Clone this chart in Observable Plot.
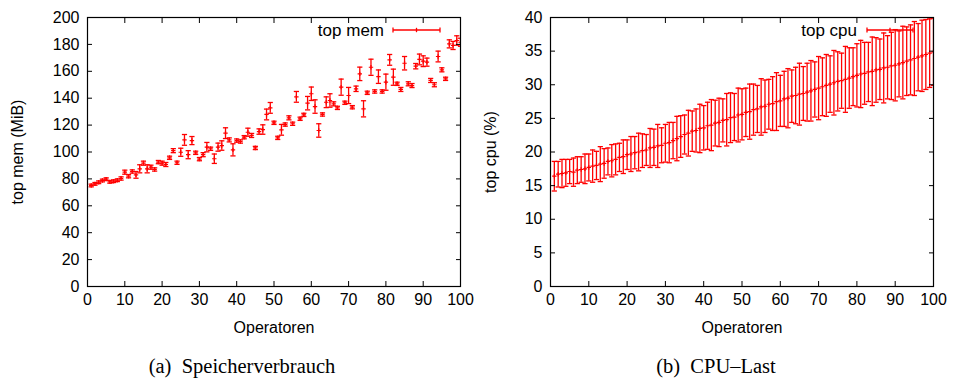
<!DOCTYPE html>
<html><head><meta charset="utf-8">
<script src="https://cdn.jsdelivr.net/npm/d3@7"></script>
<script src="https://cdn.jsdelivr.net/npm/@observablehq/plot@0.6"></script>
<style>
body{margin:0;background:#fff;}
#wrap{position:relative;width:954px;height:378px;overflow:hidden;font-family:"Liberation Sans",Arial,sans-serif;}
.panel{position:absolute;top:0;}
.cap{position:absolute;top:354px;font-family:"Liberation Serif","Times New Roman",serif;font-size:20.5px;white-space:pre;transform:translateX(-50%);line-height:24px;}
.leg{position:absolute;top:0;left:0;}
</style></head><body>
<div id="wrap"></div>
<script>
// Operator counts (x)
const operators = d3.range(1, 101);
// top mem (MiB): mean and error half-width
const memMean = [
  75.1,76.3,77.5,78.8,79.8,77.8,78.3,79.0,80.3,85.0,
  82.0,85.5,83.0,87.5,91.7,87.5,88.7,87.0,92.5,91.7,
  90.7,95.7,101.0,92.0,99.8,109.0,98.0,108.5,99.4,94.7,
  98.0,103.6,102.4,95.0,103.6,104.8,114.0,109.0,101.6,108.5,
  107.8,111.0,114.7,112.3,103.0,115.2,116.7,127.9,132.8,121.7,
  110.5,116.5,120.4,125.4,121.0,141.0,124.7,127.6,136.3,143.3,
  133.8,116.0,127.9,137.0,138.3,135.8,132.8,148.2,136.6,142.0,
  133.3,147.0,158.1,132.1,144.0,163.0,145.0,156.0,145.0,151.9,
  168.5,155.6,150.7,146.5,166.0,150.7,149.4,163.8,168.8,167.5,
  166.8,153.2,150.0,171.0,161.1,154.4,180.4,179.2,182.9,181.6
];
const memErr = [
  1,1,1,1,1,1,1,1,1.2,1.5,
  1.2,1.2,2.5,3,1.5,3,1.5,1.2,1.2,1.5,
  1.5,1.2,1.5,1.2,3,4,3,3,1.2,1.2,
  1.5,3.5,1.2,3.5,3,3.5,4,1.5,4.5,1.2,
  1.2,1.2,3,1.5,1.2,2,3.5,4,4,1.2,
  1.2,4,1.2,1.5,1.2,4,1.2,1.2,5,5,
  5,5,1.2,4,5,1.5,1.2,6,1.2,6,
  1.2,2,5,6,1.2,6,1.2,5,1.2,6,
  4,6,1.2,1.5,5,1.5,1.5,2,4,4,
  3,1.5,1.5,4,1.5,1.2,3,3,3.5,3
];
// top cpu (%): mean and error half-width
const cpuMean = [
  16.4,16.7,16.8,16.9,17.1,17.0,17.3,17.4,17.5,17.7,
  17.9,18.0,18.2,18.3,18.6,18.7,18.9,19.2,19.3,19.6,
  19.7,19.9,20.0,20.2,20.3,20.6,20.7,20.9,21.0,21.3,
  21.4,21.7,22.0,22.3,22.6,22.8,23.1,23.2,23.5,23.6,
  23.9,24.0,24.3,24.4,24.7,24.8,25.1,25.2,25.5,25.6,
  25.9,26.0,26.3,26.4,26.7,26.8,27.1,27.2,27.5,27.6,
  27.9,28.0,28.3,28.4,28.6,28.7,28.9,29.1,29.3,29.5,
  29.7,29.9,30.1,30.3,30.5,30.6,30.8,31.0,31.2,31.4,
  31.6,31.7,31.9,32.0,32.2,32.3,32.5,32.6,32.8,32.9,
  33.1,33.3,33.5,33.7,33.9,34.1,34.3,34.5,34.7,34.9
];
const cpuErr = [
  2.2,1.9,2.1,2.0,1.8,2.1,2.0,1.9,2.2,2.0,
  2.4,2.1,2.6,2.2,2.0,2.4,2.3,2.1,2.5,2.2,
  2.6,2.4,2.8,2.5,2.3,2.9,2.7,3.2,2.6,2.8,
  3.0,2.7,3.3,3.1,2.9,3.4,3.0,3.2,3.6,3.3,
  3.5,3.8,3.4,3.6,3.2,3.9,3.7,3.5,4.0,3.8,
  3.6,4.1,3.8,3.5,4.2,3.9,3.7,4.0,4.3,3.8,
  4.1,4.4,3.9,4.2,4.6,4.0,4.3,4.5,4.1,4.7,
  4.3,4.6,4.2,4.8,4.4,4.1,4.9,4.5,4.3,4.7,
  5.0,4.6,4.4,5.1,4.8,4.5,5.2,4.7,5.0,5.3,
  4.9,5.4,5.1,5.2,5.5,5.0,5.3,5.2,5.1,5.0
];
const xTicks = [0,10,20,30,40,50,60,70,80,90,100];
const memTicks = [0,20,40,60,80,100,120,140,160,180,200];
const cpuTicks = [0,5,10,15,20,25,30,35,40];

const RED = "#ff0000";
const capSym = {draw(ctx){ ctx.moveTo(-2.6,0); ctx.lineTo(2.6,0); }};
const plusSym = {draw(ctx){ ctx.moveTo(-2.2,0); ctx.lineTo(2.2,0); ctx.moveTo(0,-2.2); ctx.lineTo(0,2.2); }};

function rows(mean, err){
  return operators.map((x,i)=>({x, v: mean[i], lo: mean[i]-err[i], hi: mean[i]+err[i]}));
}

function panel({data, yDomain, yTicks, ylabel, marginLeft, marginRight, labelOffset}){
  const fs = {fontFamily:'"Liberation Sans", Arial, sans-serif', fontSize:"16px", color:"black", background:"transparent", overflow:"visible"};
  return Plot.plot({
    width: 477, height: 340, marginTop: 17, marginBottom: 54, marginLeft, marginRight,
    style: fs,
    x: {domain:[0,100], axis:null},
    y: {domain:yDomain, axis:null},
    marks: [
      Plot.ruleX(data, {x:"x", y1:"lo", y2:"hi", stroke:RED, strokeWidth:1.3, clip:true}),
      Plot.dot(data, {x:"x", y:"lo", symbol:capSym, fill:"none", stroke:RED, strokeWidth:1.3, clip:true}),
      Plot.dot(data, {x:"x", y:"hi", symbol:capSym, fill:"none", stroke:RED, strokeWidth:1.3, clip:true}),
      Plot.dot(data, {x:"x", y:"v", symbol:plusSym, fill:"none", stroke:RED, strokeWidth:1.2, clip:true}),
      Plot.frame({stroke:"black", strokeWidth:1.2}),
      Plot.axisX({anchor:"bottom", ticks:xTicks, tickSize:-5, tickFormat:()=>"", label:null}),
      Plot.axisX({anchor:"top", ticks:xTicks, tickSize:-5, tickFormat:()=>"", label:null}),
      Plot.axisX({anchor:"bottom", ticks:xTicks, tickSize:0, tickPadding:7, label:"Operatoren", labelAnchor:"center", labelOffset:46, labelArrow:"none"}),
      Plot.axisY({anchor:"left", ticks:yTicks, tickSize:-5, tickFormat:()=>"", label:null}),
      Plot.axisY({anchor:"right", ticks:yTicks, tickSize:-5, tickFormat:()=>"", label:null}),
      Plot.axisY({anchor:"left", ticks:yTicks, tickSize:0, tickPadding:8, label:ylabel, labelAnchor:"center", labelOffset, labelArrow:"none"})
    ]
  });
}

const wrap = document.getElementById("wrap");
const p1 = panel({data: rows(memMean, memErr), yDomain:[0,200], yTicks:memTicks, ylabel:"top mem (MiB)", marginLeft:87, marginRight:17, labelOffset:76});
p1.classList.add("panel"); p1.style.left = "0px";
const p2 = panel({data: rows(cpuMean, cpuErr), yDomain:[0,40], yTicks:cpuTicks, ylabel:"top cpu (%)", marginLeft:73, marginRight:21, labelOffset:66});
p2.classList.add("panel"); p2.style.left = "477px";
wrap.append(p1, p2);

// legends (inside plot frames)
function legend(label, textRight, x1, x2, y){
  const ns = "http://www.w3.org/2000/svg";
  const svg = document.createElementNS(ns, "svg");
  svg.setAttribute("width", 954); svg.setAttribute("height", 60);
  svg.setAttribute("class","leg");
  svg.style.position = "absolute"; svg.style.left="0px"; svg.style.top="0px";
  svg.innerHTML = `<text x="${textRight}" y="${y+6}" text-anchor="end" font-family="Liberation Sans, Arial, sans-serif" font-size="17">${label}</text>
  <g stroke="${RED}" stroke-width="1.3" fill="none">
  <line x1="${x1}" x2="${x2}" y1="${y}" y2="${y}"/>
  <line x1="${x1}" x2="${x1}" y1="${y-2.6}" y2="${y+2.6}"/>
  <line x1="${x2}" x2="${x2}" y1="${y-2.6}" y2="${y+2.6}"/>
  <line x1="${(x1+x2)/2}" x2="${(x1+x2)/2}" y1="${y-2.2}" y2="${y+2.2}"/>
  </g>`;
  return svg;
}
wrap.append(legend("top mem", 384, 393, 440, 30));
wrap.append(legend("top cpu", 857, 867, 913, 30));

function caption(text, cx){
  const d = document.createElement("div");
  d.className = "cap"; d.style.left = cx + "px"; d.textContent = text;
  return d;
}
wrap.append(caption("(a)  Speicherverbrauch", 242), caption("(b)  CPU\u2013Last", 716));
</script>
</body></html>
